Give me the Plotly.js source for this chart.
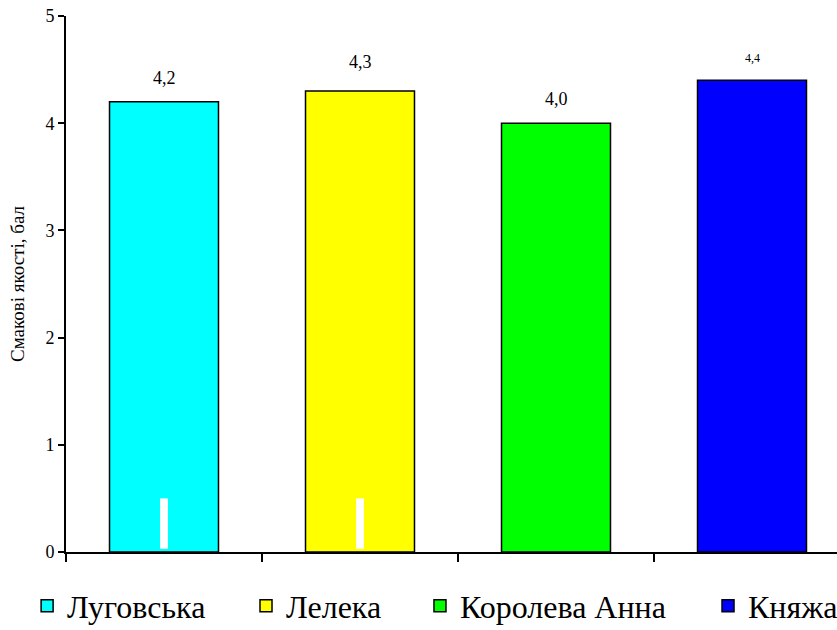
<!DOCTYPE html>
<html>
<head>
<meta charset="utf-8">
<script src="https://cdn.plot.ly/plotly-3.0.1.min.js"></script>
<style>
html,body{margin:0;padding:0;overflow:hidden;background:#fff;}
#chart{width:860px;height:630px;}
</style>
</head>
<body>
<div id="chart"></div>
<script>
// ---- data ----
var categories = ["Луговська", "Лелека", "Королева Анна", "Княжа"];
var values = [4.2, 4.3, 4.0, 4.4];
var markLow = [0.03, 0.03, null, null];
var markHigh = [0.50, 0.50, null, null];
var yTicks = [0, 1, 2, 3, 4, 5];
var yTitle = "Смакові якості, бал";

// ---- styles ----
var colors = ["#00FFFF", "#FFFF00", "#00FF00", "#0000FF"];
var labelFontSize = [18, 18, 18, 12];
var labelOffset = [24, 29, 24, 22];
var legendIds = ["legend", "legend2", "legend3", "legend4"];
var legendX = [-0.0496, 0.2296, 0.4515, 0.8189];
var FONT = "Liberation Serif";

var traces = categories.map(function (c, i) {
  return {
    type: "bar",
    x: [c],
    y: [values[i]],
    name: c,
    width: 0.556,
    marker: {color: colors[i], line: {color: "#000", width: 1.5}},
    legend: legendIds[i],
    hoverinfo: "skip"
  };
});

var mx = [], my = [], mb = [];
categories.forEach(function (c, i) {
  if (markLow[i] !== null) {
    mx.push(c); mb.push(markLow[i]); my.push(markHigh[i] - markLow[i]);
  }
});
traces.push({
  type: "bar", x: mx, y: my, base: mb, width: 0.04,
  marker: {color: "#FFFFFF", line: {width: 0}},
  showlegend: false, hoverinfo: "skip"
});

var annotations = categories.map(function (c, i) {
  return {
    x: c, y: values[i], xref: "x", yref: "y",
    text: values[i].toFixed(1).replace(".", ","),
    showarrow: false, yanchor: "middle", yshift: labelOffset[i],
    font: {family: FONT, size: labelFontSize[i], color: "#000"}
  };
});

var layout = {
  width: 860, height: 630,
  margin: {l: 66, r: 10, t: 16, b: 78, autoexpand: false},
  paper_bgcolor: "#fff", plot_bgcolor: "#fff",
  barmode: "overlay",
  font: {family: FONT, color: "#000"},
  xaxis: {
    type: "category", categoryarray: categories, range: [-0.5, 3.5],
    showline: true, linecolor: "#000", linewidth: 2,
    ticks: "outside", tickson: "boundaries", ticklen: 8, tickwidth: 2, tickcolor: "#000",
    showticklabels: false, showgrid: false, zeroline: false, fixedrange: true
  },
  yaxis: {
    range: [0, 5], tickvals: yTicks, ticktext: yTicks.map(String),
    showline: true, linecolor: "#000", linewidth: 2,
    ticks: "outside", ticklen: 6, tickwidth: 2, tickcolor: "#000",
    tickfont: {family: FONT, size: 18, color: "#000"},
    showgrid: false, zeroline: false, fixedrange: true,
    title: {text: yTitle, font: {family: FONT, size: 19, color: "#000"}, standoff: 16}
  },
  annotations: annotations,
  showlegend: true
};
legendIds.forEach(function (id, i) {
  layout[id] = {
    orientation: "h", x: legendX[i], xanchor: "left",
    yref: "container", y: 0.038, yanchor: "middle",
    bgcolor: "rgba(0,0,0,0)",
    font: {family: FONT, size: 32, color: "#000"}
  };
});

Plotly.newPlot("chart", traces, layout, {staticPlot: true, displayModeBar: false});
</script>
</body>
</html>
